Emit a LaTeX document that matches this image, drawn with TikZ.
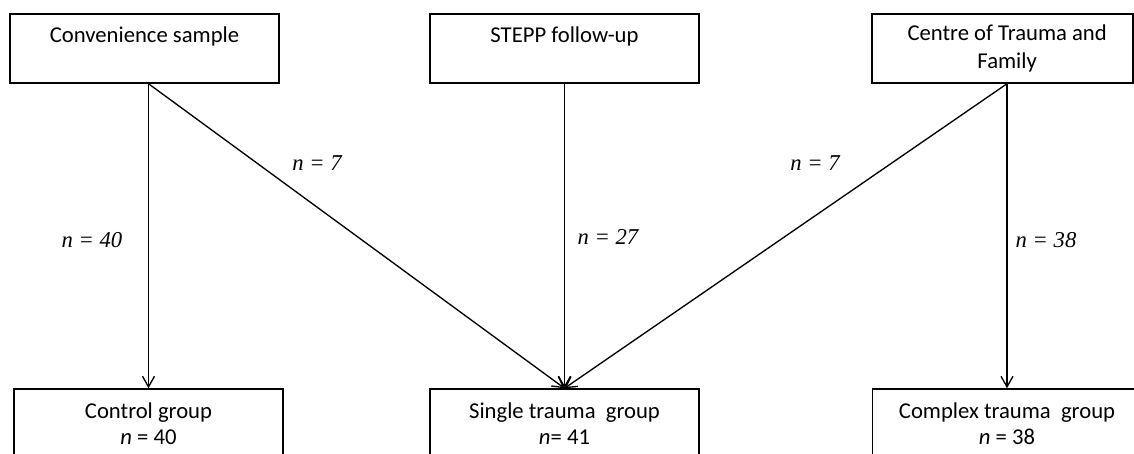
\documentclass[tikz,border=0pt]{standalone}
\usepackage{fontspec}
\setmainfont{Carlito}
\newfontfamily\lblfont{Liberation Serif}
\usetikzlibrary{arrows.meta,calc}
\begin{document}
\begin{tikzpicture}[x=0.75pt,y=-0.75pt,
  box/.style={draw=black,line width=1.1pt,minimum width=201.75pt,minimum height=51.75pt,
    align=center,inner sep=0pt,font=\fontsize{17}{21}\selectfont},
  lowbox/.style={box,minimum height=52.5pt,font=\fontsize{17}{19.5}\selectfont},
  conn/.style={line width=1pt,-{Straight Barb[length=8pt,width=9pt,line width=1pt]}},
  lbl/.style={font=\lblfont\itshape\fontsize{17}{20}\selectfont,inner sep=0pt}]
\useasboundingbox (0,0) rectangle (1134,453);
% top boxes
\node[box] (conv) at (144.5,48.5) {Convenience sample\\\mbox{}};
\node[box] (stepp) at (564.5,48.5) {STEPP follow-up\\\mbox{}};
\node[box,minimum width=195.75pt] (ctf) at (1002.5,48.5) {\hspace*{7pt}Centre of Trauma and\\\hspace*{7pt}Family};
% bottom boxes
\node[lowbox] (ctrl) at (148.5,424) {Control group\\\textit{n} = 40};
\node[lowbox] (single) at (564.5,424) {Single trauma\ \ group\\\textit{n}= 41};
\node[lowbox] (cplx) at (1007,424) {Complex trauma\ \ group\\\textit{n} = 38};
% connectors
\draw[conn] (conv.south -| ctrl.north) -- (ctrl.north);
\draw[conn] (conv.south -| ctrl.north) -- (single.north);
\draw[conn] (stepp.south) -- (single.north);
\draw[conn] (ctf.south -| cplx.north) -- (single.north);
\draw[conn] (ctf.south -| cplx.north) -- (cplx.north);
% labels
\node[lbl] (l1) at (92,240) {n = 40};
\node[lbl] (l2) at (317,163) {n = 7};
\node[lbl] (l3) at (608,237) {n = 27};
\node[lbl] (l4) at (815,163) {n = 7};
\node[lbl] (l5) at (1046,240) {n = 38};
\end{tikzpicture}
\end{document}
